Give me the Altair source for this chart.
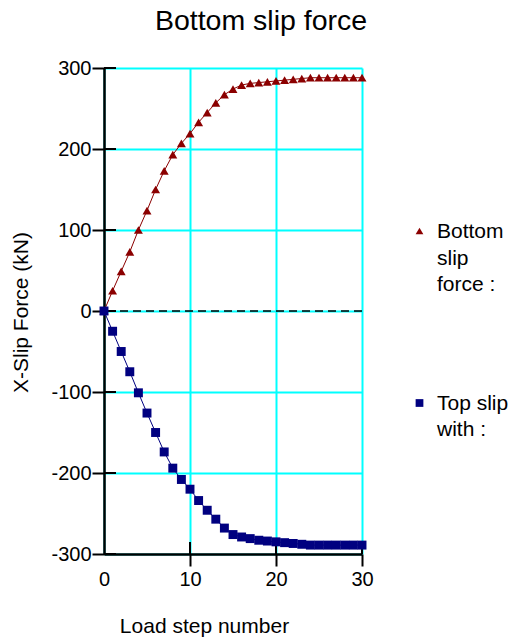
import altair as alt
import pandas as pd

# ---- data ----
steps = list(range(31))
bottom_force = [0, 25, 49, 73, 100, 124, 150, 173, 193, 207, 219, 233, 245, 257,
                267, 274, 279, 281, 282, 283, 284, 285, 286, 287, 288, 288, 288,
                288, 288, 288, 288]
top_force = [0, -25, -50, -75, -101, -126, -150, -174, -194, -208, -220, -234,
             -246, -257, -268, -276, -279, -281, -283, -284, -285, -286, -287,
             -288, -289, -289, -289, -289, -289, -289, -289]
series_names = ["Bottom slip force :", "Top slip with :"]
legend_labels = ["Bottom\nslip\nforce :", "Top slip\nwith :"]
series_colors = ["#8b0000", "#000080"]
series_shapes = ["triangle-up", "square"]
x_ticks = [0, 10, 20, 30]
x_inner_ticks = [10, 20, 30]
y_ticks = [-300, -200, -100, 0, 100, 200, 300]
zero_line = [0]

rows = []
for s, b, t in zip(steps, bottom_force, top_force):
    rows.append({"step": s, "force": b, "series": series_names[0]})
    rows.append({"step": s, "force": t, "series": series_names[1]})
df = pd.DataFrame(rows)
zero_df = pd.DataFrame({"force": zero_line})
xin_df = pd.DataFrame({"step": x_inner_ticks})
yin_df = pd.DataFrame({"force": y_ticks})

FONT = "Liberation Sans"

x_scale = alt.Scale(domain=[0, 30], nice=False, zero=False)
y_scale = alt.Scale(domain=[-300, 300], nice=False)
color_scale = alt.Scale(domain=series_names, range=series_colors)
shape_scale = alt.Scale(domain=series_names, range=series_shapes)

x_axis = alt.Axis(
    values=x_ticks, orient="bottom", title="Load step number",
    grid=True, gridColor="#00ffff", gridWidth=2,
    domainColor="black", domainWidth=2.5,
    tickColor="black", tickWidth=2, tickSize=12,
    tickOpacity={"condition": {"test": "datum.value === 0", "value": 0}, "value": 1},
    labelFont=FONT, labelFontSize=20, labelColor="black", labelPadding=3,
    labelFlush=False,
    titleFont=FONT, titleFontSize=21, titleFontWeight="normal", titleColor="black",
    titleX=100, titleY=78, titleBaseline="alphabetic", titleAlign="center",
)
y_axis = alt.Axis(
    values=y_ticks, orient="left", title="X-Slip Force (kN)",
    grid=True, gridColor="#00ffff", gridWidth=2,
    domainColor="black", domainWidth=2.5,
    tickColor="black", tickWidth=2, tickSize=12,
    labelFont=FONT, labelFontSize=20, labelColor="black", labelPadding=1,
    labelFlush=False, labelExpr="'' + datum.value",
    titleFont=FONT, titleFontSize=21, titleFontWeight="normal", titleColor="black",
    titleX=-77, titleY=244, titleBaseline="alphabetic", titleAlign="center",
    titleAngle=270,
)

X = alt.X("step:Q", scale=x_scale, axis=x_axis)
Y = alt.Y("force:Q", scale=y_scale, axis=y_axis)
C = alt.Color("series:N", scale=color_scale, legend=None)
S = alt.Shape("series:N", scale=shape_scale, legend=None)

lines = alt.Chart(df).mark_line(strokeWidth=1).encode(
    x=X, y=Y,
    stroke=alt.Stroke("series:N", scale=color_scale, legend=None),
    detail="series:N",
)

points = alt.Chart(df).mark_point(filled=True, size=80, opacity=1).encode(
    x=X, y=Y, color=C, shape=S,
)

zero_rule = alt.Chart(zero_df).mark_rule(
    color="black", strokeWidth=1.5, strokeDash=[8, 5]
).encode(y=Y)

# inner halves of the crossing axis ticks
y_inner = alt.Chart(yin_df).mark_tick(
    orient="horizontal", size=12, thickness=2, color="black", opacity=1, xOffset=6
).encode(
    y=Y,
    x=alt.datum(0, scale=x_scale, axis=x_axis),
)
x_inner = alt.Chart(xin_df).mark_tick(
    orient="vertical", size=12, thickness=2, color="black", opacity=1, yOffset=-6
).encode(
    x=X,
    y=alt.datum(-300, scale=y_scale, axis=y_axis),
)

# legend (symbols use the same colour / shape scales as the data)
legend_symbol_y = [163, 335]
legend_text_y = [170, 341.5]
legend_layers = []
for name, label, sy, ty in zip(series_names, legend_labels, legend_symbol_y, legend_text_y):
    ldf = pd.DataFrame({"series": [name]})
    legend_layers.append(
        alt.Chart(ldf).mark_point(filled=True, size=60, opacity=1).encode(
            x=alt.value(315.5), y=alt.value(sy), color=C, shape=S,
        )
    )
    legend_layers.append(
        alt.Chart(ldf).mark_text(
            align="left", baseline="alphabetic", lineBreak="\n", lineHeight=26.5,
            font=FONT, fontSize=21, color="black",
        ).encode(x=alt.value(333), y=alt.value(ty), text=alt.value(label))
    )

chart = alt.layer(lines, zero_rule, y_inner, x_inner, points, *legend_layers).properties(
    width=258, height=486,
    title=alt.TitleParams(
        "Bottom slip force", font=FONT, fontSize=28.5, fontWeight="normal",
        color="black", anchor="middle", dx=28, dy=-19,
    ),
    autosize=alt.AutoSizeParams(type="none"),
    padding={"left": 104, "top": 68, "right": 153, "bottom": 84},
).configure_view(stroke=None)

chart.save("out.html", embed_options={"renderer": "svg", "actions": False})
